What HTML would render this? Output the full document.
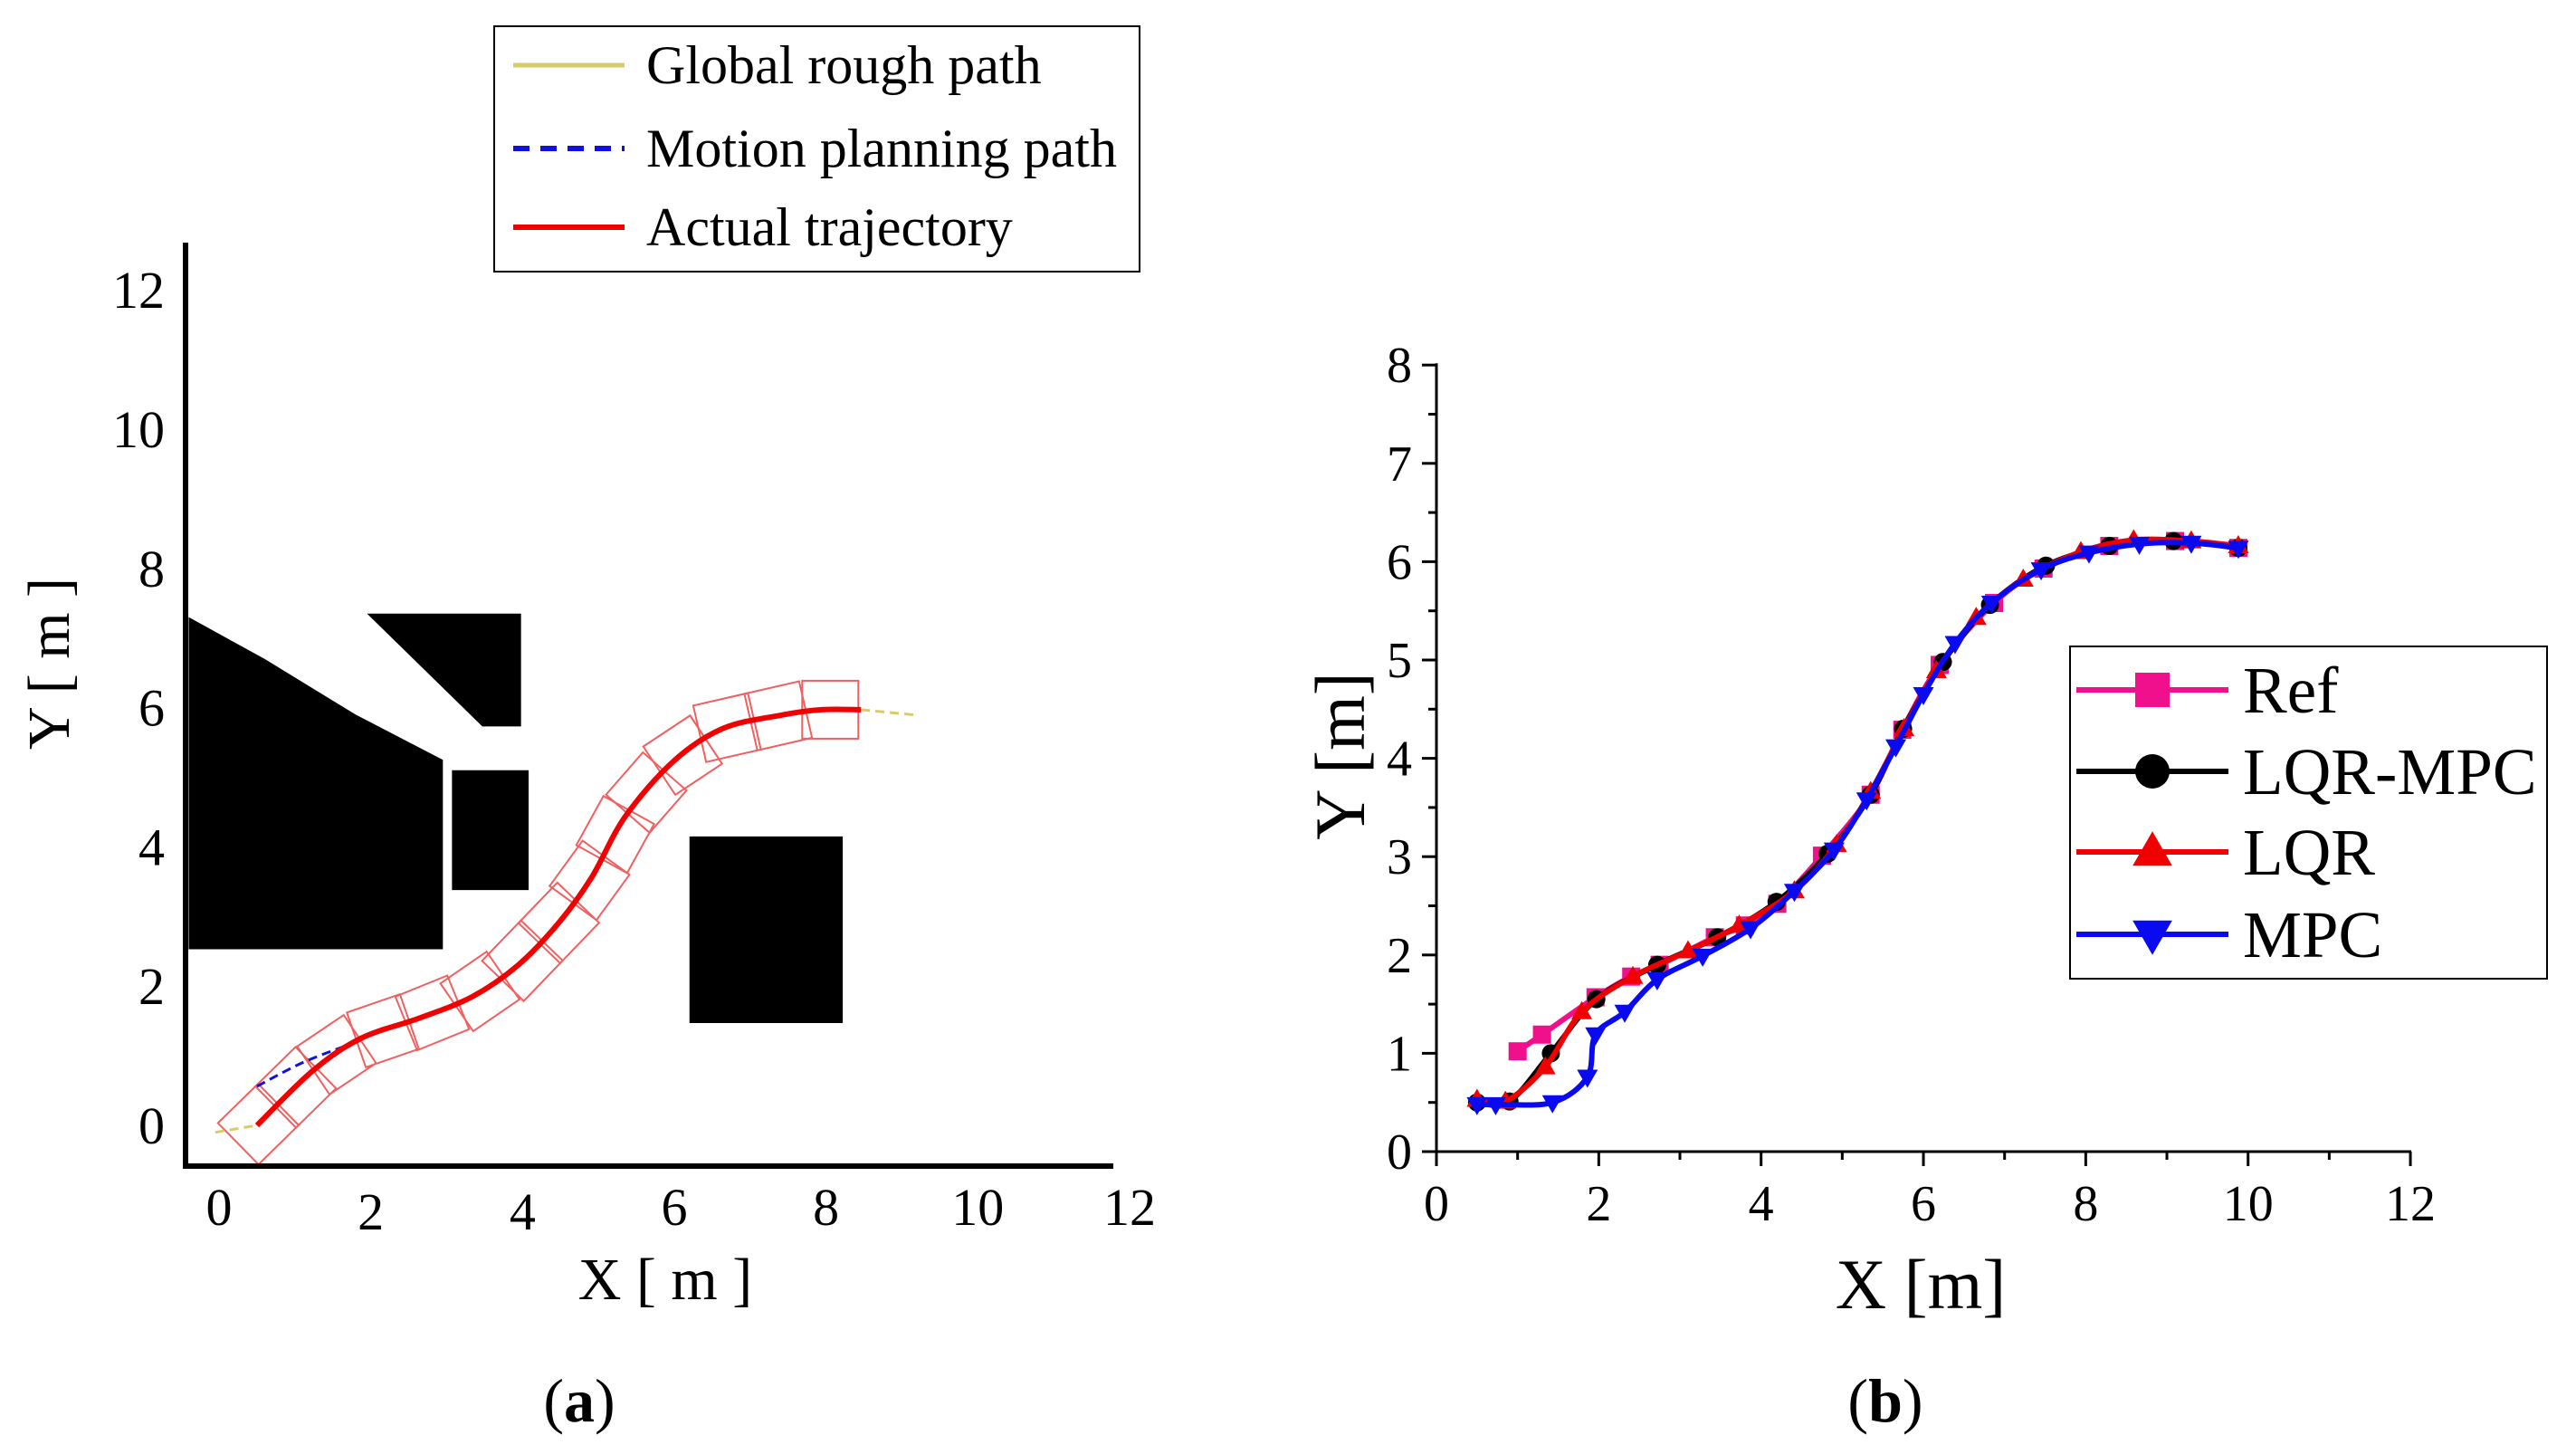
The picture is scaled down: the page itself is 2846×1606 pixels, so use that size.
<!DOCTYPE html>
<html><head><meta charset="utf-8"><style>
html,body{margin:0;padding:0;background:#fff;}
svg{display:block;font-family:"Liberation Serif",serif;}
</style></head><body>
<svg id="fig" width="2846" height="1606" viewBox="0 0 2846 1606" xmlns="http://www.w3.org/2000/svg">
<rect width="2846" height="1606" fill="#fff"/>
<g id="pa"></g>
<g id="pb"></g>
<text x="640" y="1570" font-size="68" text-anchor="middle">(<tspan font-weight="bold">a</tspan>)</text>
<text x="2083" y="1570" font-size="68" text-anchor="middle">(<tspan font-weight="bold">b</tspan>)</text>
</svg>
<script>
// ---------- Panel A data ----------
const aTicks = [0,2,4,6,8,10,12];
const actualX = [0.50,1.23,1.87,2.64,3.34,3.94,4.47,4.91,5.35,5.99,6.64,7.40,7.94,8.46];
const actualY = [0.00,0.78,1.25,1.54,1.85,2.30,2.90,3.56,4.43,5.23,5.70,5.89,5.97,5.97];
const motionX = [0.50,1.10,1.76];
const motionY = [0.56,0.90,1.18];
const roughStartX = [-0.05,0.50];
const roughStartY = [-0.10,0.00];
const roughEndX = [8.46,9.22];
const roughEndY = [5.97,5.89];
const obstacles = [
 [[-0.4,7.3],[0.6,6.7],[1.8,5.9],[2.95,5.25],[2.95,2.53],[-0.4,2.53]],
 [[1.95,7.35],[3.98,7.35],[3.98,5.73],[3.47,5.73]],
 [[3.07,5.1],[4.08,5.1],[4.08,3.38],[3.07,3.38]],
 [[6.2,4.15],[8.22,4.15],[8.22,1.47],[6.2,1.47]]
];
const NS="http://www.w3.org/2000/svg";
function mk(parent,tag,attrs){const e=document.createElementNS(NS,tag);for(const k in attrs)e.setAttribute(k,attrs[k]);parent.appendChild(e);return e;}
const ax=v=>242+v*83.83, ay=v=>1243-v*76.9;
const pa=document.getElementById('pa');
function smooth(xs,ys,sx,sy){
  const p=xs.map((x,i)=>[sx(x),sy(ys[i])]);
  let d=`M${p[0][0]},${p[0][1]}`;
  for(let i=0;i<p.length-1;i++){
    const p0=p[Math.max(0,i-1)],p1=p[i],p2=p[i+1],p3=p[Math.min(p.length-1,i+2)];
    const c1=[p1[0]+(p2[0]-p0[0])/6,p1[1]+(p2[1]-p0[1])/6];
    const c2=[p2[0]-(p3[0]-p1[0])/6,p2[1]-(p3[1]-p1[1])/6];
    d+=` C${c1[0]},${c1[1]} ${c2[0]},${c2[1]} ${p2[0]},${p2[1]}`;
  }
  return d;
}
obstacles.forEach((o,i)=>{
  const e=mk(pa,'polygon',{points:o.map(p=>ax(p[0])+','+ay(p[1])).join(' '),fill:'#000'});
  
  
});
(function(){
  const p=actualX.map((x,i)=>[ax(x),ay(actualY[i])]);
  let segs=[],tot=0;
  for(let i=0;i<p.length-1;i++){const L=Math.hypot(p[i+1][0]-p[i][0],p[i+1][1]-p[i][1]);segs.push(L);tot+=L;}
  const g=mk(pa,'g',{fill:'none',stroke:'#f06060','stroke-width':2});
  
  
  for(let s=0;s<=tot+1;s+=58){
    let acc=0,i=0;while(i<segs.length-1&&acc+segs[i]<s){acc+=segs[i];i++;}
    const t=Math.min(1,(s-acc)/segs[i]);
    const x=p[i][0]+(p[i+1][0]-p[i][0])*t,y=p[i][1]+(p[i+1][1]-p[i][1])*t;
    const ang=Math.atan2(p[i+1][1]-p[i][1],p[i+1][0]-p[i][0])*180/Math.PI;
    const r=mk(g,'rect',{x:x-29,y:y-32,width:62,height:64,transform:`rotate(${ang} ${x} ${y})`});
    
    
  }
})();
let e;
e=mk(pa,'path',{d:smooth(roughStartX,roughStartY,ax,ay),fill:'none',stroke:'#d8cc6a','stroke-width':3,'stroke-dasharray':'10 6'});

e=mk(pa,'path',{d:smooth(roughEndX,roughEndY,ax,ay),fill:'none',stroke:'#d8cc6a','stroke-width':3,'stroke-dasharray':'10 6'});

e=mk(pa,'path',{d:smooth(motionX,motionY,ax,ay),fill:'none',stroke:'#1010e0','stroke-width':3,'stroke-dasharray':'10 6'});

e=mk(pa,'path',{d:smooth(actualX,actualY,ax,ay),fill:'none',stroke:'#f00000','stroke-width':6});

e=mk(pa,'line',{x1:205,y1:268,x2:205,y2:1291,stroke:'#000','stroke-width':6});

e=mk(pa,'line',{x1:202,y1:1288,x2:1230,y2:1288,stroke:'#000','stroke-width':6});

aTicks.forEach(v=>{
  let t=mk(pa,'text',{x:ax(v),y:1353+(v===2||v===4?5:0),'font-size':58,'text-anchor':'middle'});t.textContent=v;
  
  t=mk(pa,'text',{x:182,y:ay(v)+20,'font-size':58,'text-anchor':'end'});t.textContent=v;
  
});
e=mk(pa,'text',{x:735,y:1435,'font-size':66,'text-anchor':'middle'});e.textContent='X [ m ]';

e=mk(pa,'text',{x:0,y:0,'font-size':66,'text-anchor':'middle',transform:'translate(76,733) rotate(-90)'});e.textContent='Y [ m ]';

const lga=mk(pa,'g',{});

mk(lga,'rect',{x:546,y:29,width:713,height:271,fill:'#fff',stroke:'#000','stroke-width':2});
const legA=[['Global rough path','#d8cc6a',null,72],['Motion planning path','#1010e0','18 12',164],['Actual trajectory','#f00000',null,251]];
legA.forEach(l=>{
  const g=mk(lga,'g',{});
  
  const a={x1:567,y1:l[3],x2:690,y2:l[3],stroke:l[1],'stroke-width':l[0][0]==='G'?5:6};if(l[2])a['stroke-dasharray']=l[2];
  mk(g,'line',a);
  const t=mk(g,'text',{x:714,y:l[3]+20,'font-size':60});t.textContent=l[0];
});

// ---------- Panel B data ----------
const bXTicks=[0,2,4,6,8,10,12];
const bYTicks=[0,1,2,3,4,5,6,7,8];
const refX=[1.0,1.3,1.96,2.4,2.75,3.43,3.8,4.2,4.75,5.35,5.74,6.2,6.87,7.48,8.29,9.1,9.88];
const refY=[1.02,1.19,1.57,1.78,1.9,2.18,2.3,2.52,3.01,3.63,4.29,4.95,5.58,5.93,6.16,6.21,6.14];
const lqrmpcX=[0.5,0.9,1.41,1.97,2.72,3.46,4.19,4.82,5.35,5.75,6.24,6.82,7.51,8.29,9.08,9.88];
const lqrmpcY=[0.5,0.51,1.0,1.55,1.9,2.18,2.54,3.03,3.63,4.3,4.98,5.56,5.96,6.16,6.21,6.14];
const lqrX=[0.5,0.85,1.34,1.79,2.42,3.1,3.73,4.41,4.93,5.35,5.76,6.16,6.65,7.23,7.94,8.59,9.3,9.88];
const lqrY=[0.53,0.51,0.86,1.42,1.78,2.04,2.3,2.65,3.12,3.66,4.3,4.89,5.43,5.82,6.1,6.22,6.21,6.16];
const mpcX=[0.5,0.73,1.43,1.86,1.96,2.32,2.72,3.28,3.87,4.41,4.9,5.3,5.66,6.0,6.39,6.84,7.45,8.04,8.66,9.3,9.88];
const mpcY=[0.48,0.48,0.5,0.76,1.19,1.42,1.75,1.99,2.27,2.65,3.07,3.58,4.12,4.65,5.17,5.58,5.92,6.09,6.18,6.19,6.14];
const bx=v=>1587+v*89.67, by=v=>1272-v*108.6;
const pb=document.getElementById('pb');
e=mk(pb,'line',{x1:1587,y1:by(8)-2,x2:1587,y2:by(0)+2,stroke:'#000','stroke-width':3});

e=mk(pb,'line',{x1:1585,y1:by(0),x2:2664,y2:by(0),stroke:'#000','stroke-width':3});

for(let v=0;v<=12;v+=1){
  e=mk(pb,'line',{x1:bx(v),y1:by(0),x2:bx(v),y2:by(0)+(v%2===0?16:9),stroke:'#000','stroke-width':3});
  
}
for(let v=0;v<=8;v+=0.5){
  e=mk(pb,'line',{x1:1587,y1:by(v),x2:1587-(v%1===0?16:9),y2:by(v),stroke:'#000','stroke-width':3});
  
}
bXTicks.forEach(v=>{const t=mk(pb,'text',{x:bx(v),y:1348,'font-size':56,'text-anchor':'middle'});t.textContent=v;
  });
bYTicks.forEach(v=>{const t=mk(pb,'text',{x:1560,y:by(v)+19,'font-size':56,'text-anchor':'end'});t.textContent=v;
  });
e=mk(pb,'text',{x:2122,y:1445,'font-size':78,'text-anchor':'middle'});e.textContent='X [m]';

e=mk(pb,'text',{x:0,y:0,'font-size':78,'text-anchor':'middle',transform:'translate(1507,835) rotate(-90)'});e.textContent='Y [m]';

function marker(g,type,x,y,c,s){
  s=s||10;
  if(type==='sq')return mk(g,'rect',{x:x-s,y:y-s,width:2*s,height:2*s,fill:c});
  if(type==='ci')return mk(g,'circle',{cx:x,cy:y,r:s,fill:c});
  if(type==='up')return mk(g,'polygon',{points:`${x},${y-s*1.2} ${x+s*1.15},${y+s*0.8} ${x-s*1.15},${y+s*0.8}`,fill:c});
  return mk(g,'polygon',{points:`${x},${y+s*1.2} ${x+s*1.15},${y-s*0.8} ${x-s*1.15},${y-s*0.8}`,fill:c});
}
const series=[['ref',refX,refY,'#f0108c','sq'],['lqr-mpc',lqrmpcX,lqrmpcY,'#000','ci'],['lqr',lqrX,lqrY,'#f00000','up'],['mpc',mpcX,mpcY,'#0a0af0','dn']];
series.forEach(s=>{
  const g=mk(pb,'g',{});
  
  const p=mk(g,'path',{d:smooth(s[1],s[2],bx,by),fill:'none',stroke:s[3],'stroke-width':6});
  
  s[1].forEach((x,i)=>{const m=marker(g,s[4],bx(x),by(s[2][i]),s[3]);
    });
});
const lgb=mk(pb,'g',{});

mk(lgb,'rect',{x:2287,y:714,width:527,height:367,fill:'#fff',stroke:'#000','stroke-width':2});
const legB=[['Ref','#f0108c','sq',762],['LQR-MPC','#000','ci',852],['LQR','#f00000','up',941],['MPC','#0a0af0','dn',1032]];
legB.forEach(l=>{
  const g=mk(lgb,'g',{});
  
  mk(g,'line',{x1:2294,y1:l[3],x2:2462,y2:l[3],stroke:l[1],'stroke-width':6});
  marker(g,l[2],2378,l[3],l[1],19);
  const t=mk(g,'text',{x:2478,y:l[3]+25,'font-size':73});t.textContent=l[0];
});
</script>
</body></html>
